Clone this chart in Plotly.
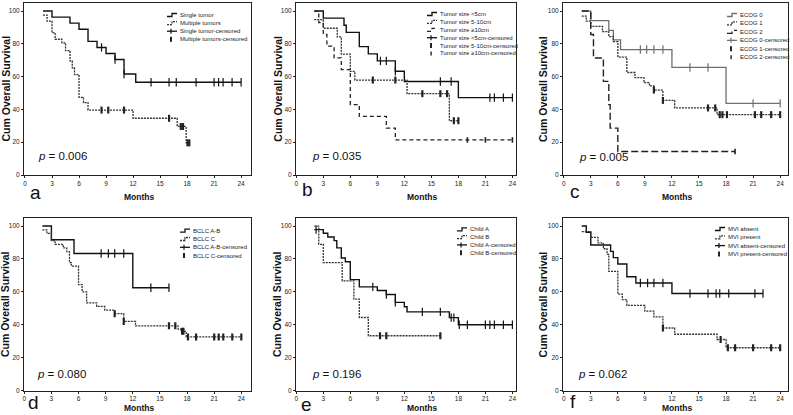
import plotly.graph_objects as go

W, H = 793, 415

# ---------------- data ----------------
# Panel a: number of tumors
a_single_t = [2.0, 3.0, 5.0, 6.0, 7.0, 8.0, 9.0, 10.0, 11.0, 12.3, 24.0]
a_single_s = [100, 96.3, 92.6, 88.9, 81.5, 77.8, 74.1, 70.4, 61.6, 56.6, 56.6]
a_single_c = [8.5, 10.0, 11.0, 14.0, 16.0, 16.8, 19.0, 21.0, 21.5, 22.0, 23.0, 24.0]
a_multi_t = [2.0, 2.45, 3.0, 3.35, 4.1, 4.5, 5.0, 5.25, 5.5, 6.0, 6.5, 7.0, 12.0, 16.9, 17.9, 18.3]
a_multi_s = [97.5, 93.8, 86.8, 82.8, 80.6, 75.8, 69.6, 65.4, 61.2, 47.4, 44.2, 39.6, 34.6, 29.6, 19.6, 19.6]
a_multi_c = [8.5, 9.25, 11.0, 16.0, 17.3, 17.55, 18.05, 18.25]

# Panel b: tumor size
b_lt5_t = [2.0, 3.0, 5.3, 5.55, 7.0, 8.0, 9.0, 11.0, 12.0, 18.0, 24.0]
b_lt5_s = [100, 95.7, 91.3, 87.0, 78.3, 73.9, 69.6, 63.3, 57.0, 47.2, 47.2]
b_lt5_c = [9.35, 10.0, 11.0, 16.0, 17.2, 21.5, 22.0, 23.0, 24.0]
b_510_t = [2.0, 3.0, 4.55, 5.0, 6.0, 6.5, 12.3, 17.0, 18.0]
b_510_s = [94.7, 89.5, 84.2, 73.7, 63.2, 57.9, 49.6, 33.1, 33.1]
b_510_c = [8.5, 11.0, 14.0, 16.0, 16.75, 17.5, 18.0]
b_ge10_t = [2.0, 2.5, 3.0, 3.4, 4.2, 5.0, 6.0, 7.0, 10.0, 11.0, 24.0]
b_ge10_s = [100, 92.9, 85.7, 78.6, 71.4, 64.3, 42.9, 35.7, 28.6, 21.4, 21.4]
b_ge10_c = [19.0, 21.0, 24.0]

# Panel c: ECOG
c_e0_t = [2.0, 3.0, 5.0, 5.5, 6.3, 12.0, 18.0, 24.0]
c_e0_s = [100, 94.1, 88.2, 82.4, 76.5, 65.6, 43.7, 43.7]
c_e0_c = [8.5, 9.2, 10.0, 11.0, 14.0, 16.0, 21.0, 24.0]
c_e1_t = [2.0, 2.5, 3.0, 4.3, 5.0, 5.5, 6.0, 7.0, 7.9, 8.9, 9.5, 10.0, 11.0, 12.3, 17.0, 24.0]
c_e1_s = [96.9, 93.8, 90.6, 87.5, 84.4, 81.3, 71.9, 62.5, 59.4, 56.3, 54.3, 51.8, 45.5, 40.9, 36.8, 36.8]
c_e1_c = [10.0, 11.0, 16.0, 16.8, 17.3, 17.6, 18.1, 21.2, 21.9, 23.0, 24.0]
c_e2_t = [2.0, 3.0, 3.3, 4.4, 5.0, 5.15, 6.0, 19.0]
c_e2_s = [100, 85.7, 71.4, 57.1, 42.9, 28.6, 14.3, 14.3]
c_e2_c = [19.0]

# Panel d: BCLC
d_ab_t = [2.0, 3.0, 5.5, 12.0, 16.0]
d_ab_s = [100, 91.7, 83.3, 62.5, 62.5]
d_ab_c = [8.5, 9.3, 10.0, 11.0, 14.0, 16.0]
d_c_t = [2.0, 2.5, 3.0, 3.4, 4.3, 4.7, 5.0, 5.2, 6.0, 6.4, 6.9, 8.0, 8.9, 10.0, 11.0, 12.3, 17.0, 17.3, 17.9, 24.0]
d_c_s = [97.7, 95.5, 91.1, 88.9, 86.7, 84.4, 77.8, 75.6, 64.4, 60.0, 53.3, 51.1, 48.9, 46.7, 42.0, 39.3, 37.3, 36.0, 32.6, 32.6]
d_c_c = [10.0, 11.0, 16.0, 16.7, 17.45, 17.6, 18.1, 19.0, 21.0, 21.5, 22.0, 23.0, 24.0]

# Panel e: Child-Pugh
e_a_t = [2.0, 3.0, 3.5, 4.2, 4.5, 5.0, 5.45, 6.0, 7.0, 9.0, 10.0, 11.0, 12.0, 12.3, 17.0, 18.0, 24.0]
e_a_s = [97.8, 95.6, 93.3, 91.1, 86.7, 80.6, 78.3, 67.4, 63.0, 60.8, 58.4, 53.6, 50.9, 47.8, 44.3, 40.0, 40.0]
e_a_c = [2.2, 8.5, 10.0, 11.0, 14.0, 16.0, 17.2, 17.5, 18.1, 19.0, 21.0, 21.5, 22.0, 23.0, 24.0]
e_b_t = [2.0, 2.5, 3.0, 5.1, 6.4, 7.0, 8.0, 16.0]
e_b_s = [100, 88.9, 77.8, 66.7, 55.6, 44.4, 33.3, 33.3]
e_b_c = [9.3, 10.0, 16.0]

# Panel f: MVI
f_abs_t = [2.0, 2.5, 3.0, 5.2, 5.5, 6.0, 7.0, 8.0, 12.0, 22.1]
f_abs_s = [100, 96.2, 88.5, 84.6, 80.8, 76.9, 69.2, 65.4, 59.0, 59.0]
f_abs_c = [8.5, 9.3, 10.0, 11.0, 14.0, 16.0, 16.9, 17.3, 18.3, 21.2, 22.1]
f_pre_t = [2.0, 3.0, 3.8, 4.4, 4.8, 5.0, 6.0, 6.5, 7.0, 9.0, 10.0, 11.0, 12.3, 17.0, 18.0, 24.0]
f_pre_s = [96.6, 93.1, 89.7, 86.2, 82.8, 72.4, 58.6, 55.2, 51.7, 48.3, 44.8, 38.0, 34.2, 31.0, 26.0, 26.0]
f_pre_c = [11.0, 17.4, 18.2, 19.0, 21.0, 23.0, 24.0]

x_ticks = [0, 3, 6, 9, 12, 15, 18, 21, 24]
y_ticks = [0, 20, 40, 60, 80, 100]
p_values = ["0.006", "0.035", "0.005", "0.080", "0.196", "0.062"]
panel_letters = ["a", "b", "c", "d", "e", "f"]

# ---------------- styles ----------------
FONT = "Arial, 'Liberation Sans', sans-serif"
SOLID = dict(color="#111111", width=1.4, dash="solid")
DOT = dict(color="#333333", width=1.3, dash="2px,1px")
DASH_B = dict(color="#222222", width=1.3, dash="4px,3px")
DASH_C = dict(color="#222222", width=1.4, dash="7px,3px")
GREY = dict(color="#6e6e6e", width=1.3, dash="solid")

panels = [
    dict(series=[(a_single_t, a_single_s, a_single_c, SOLID, "plus"),
                 (a_multi_t, a_multi_s, a_multi_c, DOT, "bar")],
         legend=["Single tumor", "Multiple tumors", "Single tumor-censored", "Multiple tumors-censored"]),
    dict(series=[(b_lt5_t, b_lt5_s, b_lt5_c, SOLID, "plus"),
                 (b_510_t, b_510_s, b_510_c, DOT, "bar"),
                 (b_ge10_t, b_ge10_s, b_ge10_c, DASH_B, "small")],
         legend=["Tumor size <5cm", "Tumor size 5-10cm", "Tumor size \u226510cm",
                 "Tumor size <5cm-censored", "Tumor size 5-10cm-censored", "Tumor size \u226510cm-censored"]),
    dict(series=[(c_e0_t, c_e0_s, c_e0_c, GREY, "plus"),
                 (c_e1_t, c_e1_s, c_e1_c, DOT, "bar"),
                 (c_e2_t, c_e2_s, c_e2_c, DASH_C, "small")],
         legend=["ECOG 0", "ECOG 1", "ECOG 2", "ECOG 0-censored", "ECOG 1-censored", "ECOG 2-censored"]),
    dict(series=[(d_ab_t, d_ab_s, d_ab_c, SOLID, "plus"),
                 (d_c_t, d_c_s, d_c_c, DOT, "bar")],
         legend=["BCLC A-B", "BCLC C", "BCLC A-B-censored", "BCLC C-censored"]),
    dict(series=[(e_a_t, e_a_s, e_a_c, SOLID, "plus"),
                 (e_b_t, e_b_s, e_b_c, DOT, "bar")],
         legend=["Child A", "Child B", "Child A-censored", "Child B-censored"]),
    dict(series=[(f_abs_t, f_abs_s, f_abs_c, SOLID, "plus"),
                 (f_pre_t, f_pre_s, f_pre_c, DOT, "bar")],
         legend=["MVI absent", "MVI present", "MVI absent-censored", "MVI present-censored"]),
]

# ---------------- layout geometry (pixels) ----------------
frames_x = [(24, 251), (296, 516), (563, 788), (24, 251), (296, 516), (563, 788)]
frames_y = [(3, 175), (3, 175), (3, 175), (218.3, 390.5), (218.3, 390.5), (218.3, 390.5)]
x_ranges = [[-0.11, 25.1], [-0.03, 24.4], [-0.08, 24.87], [-0.03, 25.07], [-0.03, 24.4], [-0.08, 24.87]]
y_ranges = [[0, 104.9]] * 3 + [[0, 104.7]] * 3
legend_pos = [(167, 15, 8.1), (427, 14, 7.9), (727, 15, 8.45), (180, 230.7, 8.3), (457, 229.3, 7.8), (715, 229, 8.3)]
ytitle_x = [5.5, 277.7, 543, 5.7, 277.7, 543]
months_x = [138.5, 422, 677, 138.5, 422, 677]
months_y = [196.5, 196.5, 196.5, 407.5, 407.5, 407.5]
p_pos = [(36, 156), (310, 156), (577, 157), (35, 374), (310, 374), (576, 374)]
letter_pos = [(28, 193), (300, 190), (568, 191), (26, 402), (299, 404), (568, 401)]


def px(x):
    return x / W


def py(y):
    return 1 - y / H


def step_val(t, ts, ss):
    v = ss[0]
    for ti, si in zip(ts, ss):
        if ti <= t + 1e-9:
            v = si
    return v


fig = go.Figure()
shapes = []
annotations = []

for i, p in enumerate(panels):
    k = "" if i == 0 else str(i + 1)
    xa, ya = "x" + k, "y" + k
    for (ts, ss, cs, st, mk) in p["series"]:
        fig.add_trace(go.Scatter(x=ts, y=ss, xaxis=xa, yaxis=ya, mode="lines",
                                 line=dict(shape="hv", color=st["color"], width=st["width"], dash=st["dash"]),
                                 showlegend=False, hoverinfo="skip"))
        cy = [step_val(c, ts, ss) for c in cs]
        if mk == "plus":
            marker = dict(symbol="line-ns", size=6, line=dict(width=1.2, color=st["color"]))
        elif mk == "bar":
            marker = dict(symbol="line-ns", size=5, line=dict(width=2.2, color="#222222"))
        else:
            marker = dict(symbol="line-ns", size=4, line=dict(width=1.6, color="#222222"))
        fig.add_trace(go.Scatter(x=cs, y=cy, xaxis=xa, yaxis=ya, mode="markers", marker=marker,
                                 showlegend=False, hoverinfo="skip"))

    x0, x1 = frames_x[i]
    y0, y1 = frames_y[i]
    axcommon = dict(showline=True, mirror=True, linecolor="#222222", linewidth=1, ticks="outside",
                    ticklen=2, tickwidth=1, tickcolor="#222222", showgrid=False, zeroline=False,
                    automargin=False,
                    tickfont=dict(family=FONT, size=6.5, color="#222222"))
    fig.update_layout(**{
        "xaxis" + k: dict(domain=[px(x0), px(x1)], range=x_ranges[i], anchor=ya,
                          tickvals=x_ticks, ticktext=[str(v) for v in x_ticks], **axcommon),
        "yaxis" + k: dict(domain=[py(y1), py(y0)], range=y_ranges[i], anchor=xa,
                          tickvals=y_ticks, ticktext=[str(v) for v in y_ticks], **axcommon),
    })

    # legend (drawn manually, compact like the original)
    lx, ly, dy = legend_pos[i]
    n = len(p["series"])
    for j, label in enumerate(p["legend"]):
        yy = ly + j * dy
        if j < n:
            st = p["series"][j][3]
            path = "M {:.5f},{:.5f} H {:.5f} V {:.5f} H {:.5f}".format(
                px(lx), py(yy + 1.5), px(lx + 5), py(yy - 1.5), px(lx + 10))
            shapes.append(dict(type="path", xref="paper", yref="paper", path=path,
                               line=dict(color=st["color"], width=1.3, dash=st["dash"])))
        else:
            st = p["series"][j - n][3]
            mk = p["series"][j - n][4]
            if mk == "plus":
                shapes.append(dict(type="line", xref="paper", yref="paper", x0=px(lx), x1=px(lx + 10),
                                   y0=py(yy), y1=py(yy), line=dict(color=st["color"], width=1.3)))
                shapes.append(dict(type="line", xref="paper", yref="paper", x0=px(lx + 4), x1=px(lx + 4),
                                   y0=py(yy - 2.5), y1=py(yy + 2.5), line=dict(color=st["color"], width=1.2)))
            elif mk == "bar":
                shapes.append(dict(type="rect", xref="paper", yref="paper", x0=px(lx + 3), x1=px(lx + 5),
                                   y0=py(yy + 2.5), y1=py(yy - 2.5), line=dict(width=0), fillcolor="#222222"))
            else:
                shapes.append(dict(type="rect", xref="paper", yref="paper", x0=px(lx + 3.4), x1=px(lx + 4.8),
                                   y0=py(yy + 2), y1=py(yy - 2), line=dict(width=0), fillcolor="#222222"))
        annotations.append(dict(text=label, xref="paper", yref="paper", x=px(lx + 10.5), y=py(yy),
                                xanchor="left", yanchor="middle", showarrow=False,
                                font=dict(family=FONT, size=6, color="#222222")))

    # y-axis title
    annotations.append(dict(text="<b>Cum Overall Survival</b>", xref="paper", yref="paper",
                            x=px(ytitle_x[i]), y=py((y0 + y1) / 2), textangle=-90,
                            xanchor="center", yanchor="middle", showarrow=False,
                            font=dict(family=FONT, size=10.5, color="#111111")))
    # x-axis title
    annotations.append(dict(text="<b>Months</b>", xref="paper", yref="paper",
                            x=px(months_x[i]), y=py(months_y[i]), xanchor="center", yanchor="middle",
                            showarrow=False, font=dict(family=FONT, size=8.5, color="#111111")))
    # p-value
    pxx, pyy = p_pos[i]
    annotations.append(dict(text="<i>p</i> = " + p_values[i], xref="paper", yref="paper",
                            x=px(pxx), y=py(pyy), xanchor="left", yanchor="middle", showarrow=False,
                            font=dict(family=FONT, size=11.5, color="#111111")))
    # panel letter
    lxp, lyp = letter_pos[i]
    annotations.append(dict(text=panel_letters[i], xref="paper", yref="paper",
                            x=px(lxp), y=py(lyp), xanchor="left", yanchor="middle", showarrow=False,
                            font=dict(family=FONT, size=19, color="#111111")))

fig.update_layout(width=W, height=H, margin=dict(l=0, r=0, t=0, b=0, autoexpand=False),
                  paper_bgcolor="white", plot_bgcolor="white", showlegend=False,
                  shapes=shapes, annotations=annotations)

fig.write_html("out.html", config={"displayModeBar": False},
               post_script="document.body.style.margin='0';document.body.style.overflow='hidden';")
